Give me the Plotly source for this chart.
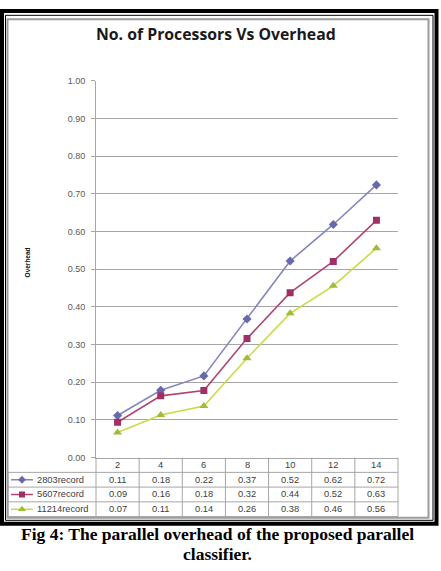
import plotly.graph_objects as go

# ---------------- data ----------------
processors = [2, 4, 6, 8, 10, 12, 14]
series_names = ["2803record", "5607record", "11214record"]
overhead_2803 = [0.112, 0.179, 0.217, 0.368, 0.522, 0.619, 0.724]
overhead_5607 = [0.094, 0.164, 0.178, 0.316, 0.438, 0.521, 0.630]
overhead_11214 = [0.067, 0.113, 0.137, 0.264, 0.383, 0.456, 0.556]
y_ticks = [0.0, 0.1, 0.2, 0.3, 0.4, 0.5, 0.6, 0.7, 0.8, 0.9, 1.0]
title_text = "No. of Processors Vs Overhead"
y_title = "Overhead"
caption_lines = ["Fig 4: The parallel overhead of the proposed parallel", "classifier."]

series_values = [overhead_2803, overhead_5607, overhead_11214]
line_colors = ["#8585C2", "#B04473", "#C9DC45"]
marker_colors = ["#6868AC", "#A02F63", "#9DBD38"]
marker_symbols = ["diamond", "square", "triangle-up"]
marker_sizes = [7, 7, 8]

W, H = 441, 571
def px(x):
    return x / W
def py(y):
    return 1 - y / H

PLOT_L, PLOT_R, PLOT_T, PLOT_B = 96, 398, 77.3, 460.7
TABLE_L = 8
ROW_H = 15
gray = "#A6A6A6"
tfont = dict(family="Liberation Sans", size=9.3, color="#404040")

fig = go.Figure()

# main series
for name, vals, lc, mc, sym, ms in zip(series_names, series_values, line_colors,
                                       marker_colors, marker_symbols, marker_sizes):
    fig.add_trace(go.Scatter(
        x=processors, y=vals, name=name, mode="lines+markers",
        line=dict(color=lc, width=1.6),
        marker=dict(color=mc, symbol=sym, size=ms, line=dict(width=0)),
        xaxis="x", yaxis="y", showlegend=False,
    ))

# legend keys inside the table's first column
for i, (lc, mc, sym, ms) in enumerate(zip(line_colors, marker_colors, marker_symbols, marker_sizes)):
    fig.add_trace(go.Scatter(
        x=[0.11, 0.5, 0.89], y=[i, i, i], mode="lines",
        line=dict(color=lc, width=1.6), xaxis="x2", yaxis="y2",
        showlegend=False, hoverinfo="skip"))
    fig.add_trace(go.Scatter(
        x=[0.5], y=[i], mode="markers",
        marker=dict(color=mc, symbol=sym, size=ms - 1, line=dict(width=0)),
        xaxis="x2", yaxis="y2", showlegend=False, hoverinfo="skip"))

shapes = []
annotations = []

# ---- data table (grid + text) ----
n = len(processors)
rows_bottom = PLOT_B + ROW_H * (len(series_names) + 1)
for r in range(1, len(series_names) + 2):
    yy = PLOT_B + r * ROW_H
    shapes.append(dict(type="line", xref="paper", yref="paper",
                       x0=px(TABLE_L), x1=px(PLOT_R), y0=py(yy), y1=py(yy),
                       line=dict(color=gray, width=1)))
shapes.append(dict(type="line", xref="paper", yref="paper",
                   x0=px(TABLE_L), x1=px(TABLE_L), y0=py(PLOT_B + ROW_H), y1=py(rows_bottom),
                   line=dict(color=gray, width=1)))
for k in range(n + 1):
    shapes.append(dict(type="line", xref="x domain", yref="paper",
                       x0=k / n, x1=k / n, y0=py(PLOT_B), y1=py(rows_bottom),
                       line=dict(color=gray, width=1)))
for p in processors:
    annotations.append(dict(text=str(p), x=p, xref="x", y=py(PLOT_B + ROW_H / 2), yref="paper",
                            showarrow=False, xanchor="center", yanchor="middle", font=tfont))
for r, (name, vals) in enumerate(zip(series_names, series_values)):
    yc = py(PLOT_B + ROW_H * (r + 1.5))
    annotations.append(dict(text=name, x=px(TABLE_L + 27), xref="paper", y=yc, yref="paper",
                            showarrow=False, xanchor="left", yanchor="middle", font=tfont))
    for p, v in zip(processors, vals):
        annotations.append(dict(text=f"{v:.2f}", x=p, xref="x", y=yc, yref="paper",
                                showarrow=False, xanchor="center", yanchor="middle", font=tfont))

# frame
shapes.append(dict(type="rect", xref="paper", yref="paper",
                   x0=px(2), x1=px(436.5), y0=py(528), y1=py(6),
                   line=dict(color="black", width=4)))
shapes.append(dict(type="rect", xref="paper", yref="paper",
                   x0=px(5.5), x1=px(433), y0=py(524.5), y1=py(10.5),
                   line=dict(color="black", width=1)))
shapes.append(dict(type="rect", xref="paper", yref="paper",
                   x0=px(7.5), x1=px(428.5), y0=py(522), y1=py(14.5),
                   line=dict(color="#9C9C9C", width=2)))

annotations += [
    dict(text=title_text, x=px(216), y=py(30), xref="paper", yref="paper",
         showarrow=False, xanchor="center", yanchor="middle",
         font=dict(family="Open Sans", size=15.8, color="#1a1a1a", weight="bold")),
    dict(text="<b>" + y_title + "</b>", x=px(27), y=py(262), xref="paper", yref="paper",
         showarrow=False, textangle=-90, xanchor="center", yanchor="middle",
         font=dict(family="Liberation Sans", size=6.5, color="#111111")),
    dict(text="<b>" + caption_lines[0] + "</b>", x=px(217), y=py(538), xref="paper", yref="paper",
         showarrow=False, xanchor="center", yanchor="middle",
         font=dict(family="Liberation Serif", size=17.5, color="black")),
    dict(text="<b>" + caption_lines[1] + "</b>", x=px(217), y=py(558.5), xref="paper", yref="paper",
         showarrow=False, xanchor="center", yanchor="middle",
         font=dict(family="Liberation Serif", size=17.5, color="black")),
]

fig.update_layout(
    width=W, height=H,
    margin=dict(l=0, r=0, t=0, b=0),
    paper_bgcolor="white", plot_bgcolor="white",
    showlegend=False,
    shapes=shapes, annotations=annotations,
    xaxis=dict(domain=[px(PLOT_L), px(PLOT_R)], range=[1, 15],
               showticklabels=False, showgrid=False, zeroline=False,
               ticks="", showline=True, linecolor=gray, linewidth=1, fixedrange=True),
    yaxis=dict(domain=[py(PLOT_B), py(PLOT_T)], range=[0, 1],
               tickvals=y_ticks, tickformat=".2f",
               showgrid=True, gridcolor=gray, gridwidth=1, zeroline=False,
               showline=True, linecolor=gray, linewidth=1,
               ticks="outside", ticklen=4, tickcolor=gray,
               ticklabelstandoff=4,
               tickfont=dict(family="Liberation Sans", size=9, color="#595959")),
    xaxis2=dict(domain=[px(TABLE_L), px(TABLE_L + 28)], range=[0, 1], visible=False,
                anchor="y2", fixedrange=True),
    yaxis2=dict(domain=[py(rows_bottom), py(PLOT_B + ROW_H)], range=[2.5, -0.5],
                visible=False, anchor="x2", fixedrange=True),
)

fig.write_html("out.html")
